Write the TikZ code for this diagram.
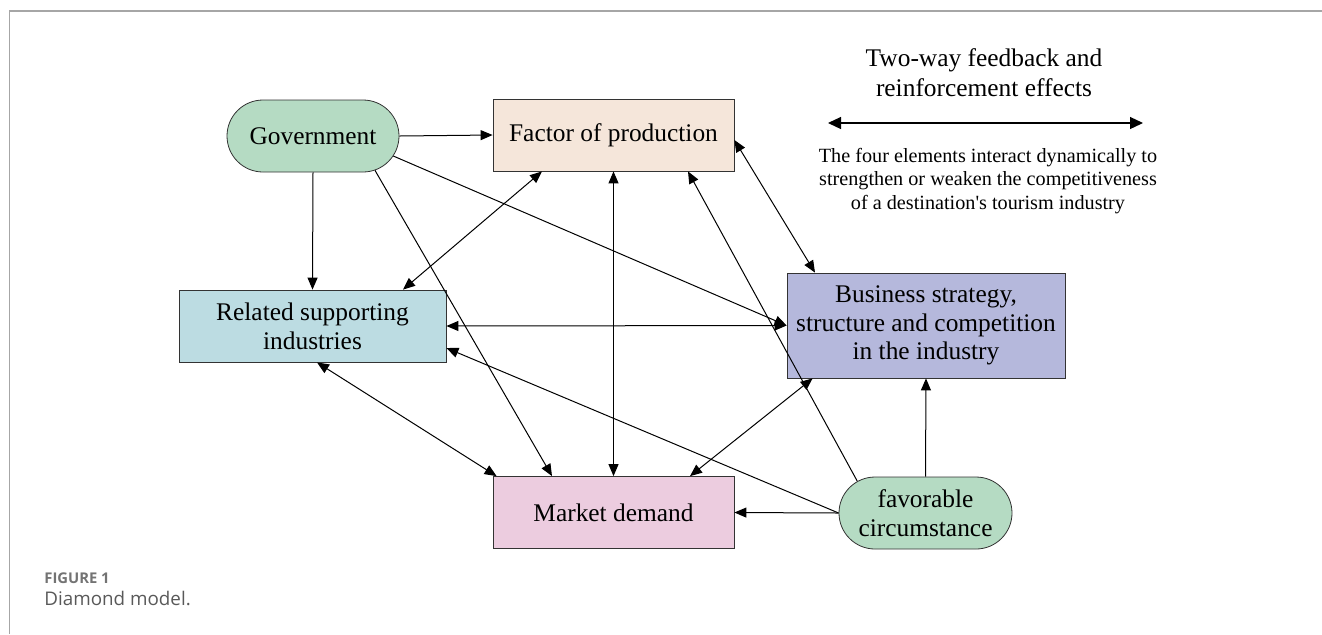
\documentclass[tikz,border=0pt]{standalone}
\usepackage{fontspec}
\setmainfont{Liberation Serif}
\newfontfamily\capfont{Open Sans}
\usepackage{tikz}
\usetikzlibrary{arrows.meta,positioning,shapes.misc}
\definecolor{govgreen}{HTML}{B5DBC3}
\definecolor{factcol}{HTML}{F5E6DA}
\definecolor{relcol}{HTML}{BCDCE2}
\definecolor{buscol}{HTML}{B5B8DC}
\definecolor{mktcol}{HTML}{ECCCDF}
\tikzset{
  box/.style={draw=black!80,fill=#1,minimum height=36pt,inner sep=2pt,align=center,font=\fontsize{12.7}{14.3}\selectfont},
  box/.default={white},
  pill/.style={box=#1,rounded rectangle},
  arr/.style={-{Triangle[length=6pt,width=5pt]},line width=0.5pt},
  dbl/.style={{Triangle[length=6pt,width=5pt]}-{Triangle[length=6pt,width=5pt]},line width=0.5pt},
  lbl/.style={align=center,inner sep=0pt},
}

\begin{document}
\begin{tikzpicture}[x=0.5pt,y=-0.5pt]
 \useasboundingbox (0,0) rectangle (1322,634);
 % page frame and caption
 \draw[black!35,line width=0.8pt] (9.5,634) |- (1322,11);
 \node[anchor=west,inner sep=0pt,font=\capfont\bfseries\fontsize{7.4}{8}\selectfont,text=black!55] (fignum) at (44,578) {FIGURE 1};
 \node[anchor=west,inner sep=0pt,font=\capfont\fontsize{9.4}{11}\selectfont,text=black!65] (figcap) at (44,598) {Diamond model.};
 % the diamond
 \node[pill=govgreen,minimum width=90pt] (gov) at (313,136) {Government};
 \node[box=factcol,minimum width=120.5pt] (fac) at (613.5,135) {Factor of production};
 \node[box=relcol,minimum width=133.5pt] (rel) at (312.5,326) {Related supporting\\industries};
 \node[box=buscol,minimum width=139pt,minimum height=52.5pt] (bus) at (926,325.5) {Business strategy,\\structure and competition\\in the industry};
 \node[box=mktcol,minimum width=120.5pt] (mkt) at (613.5,512.5) {Market demand};
 \node[pill=govgreen,minimum width=90.5pt] (fav) at (925.5,513) {favorable\\circumstance};
 % government
 \draw[arr] (gov.east) -- (fac.west);
 \draw[arr] (gov.south) -- (rel.north);
 \draw[arr] (gov.-29) -- ([xshift=-30.75pt]mkt.north);
 \draw[arr] (gov.-14) -- (bus.west);
 % two-way links
 \draw[dbl] (rel.east) -- (bus.west);
 \draw[dbl] ([xshift=45.25pt]rel.north) -- ([xshift=-35.75pt]fac.south);
 \draw[dbl] (fac.south) -- (mkt.north);
 \draw[dbl] ([yshift=-2.5pt]fac.east) -- ([xshift=-55.5pt]bus.north);
 \draw[dbl] ([xshift=2.25pt]rel.south) -- ([xshift=2pt]mkt.north west);
 \draw[dbl] ([xshift=13pt]bus.south west) -- ([xshift=38.25pt]mkt.north);
 % chance
 \draw[arr] (fav.west) -- (mkt.east);
 \draw[arr] (fav.north) -- (bus.south);
 \draw[arr] (fav.155) -- ([xshift=37.25pt]fac.south);
 \draw[arr] (fav.west) -- ([yshift=-11pt]rel.east);
 % legend
 \node[lbl,font=\fontsize{12.7}{15}\selectfont] (legtitle) at (984,73) {Two-way feedback and\\reinforcement effects};
 \coordinate (legl) at (828,123);
 \coordinate (legr) at (1143,123);
 \draw[{Triangle[length=6.5pt,width=6pt]}-{Triangle[length=6.5pt,width=6pt]},line width=0.6pt] (legl) -- (legr);
 \node[lbl,font=\fontsize{10.1}{11.75}\selectfont] (legtext) at (988,181) {The four elements interact dynamically to\\strengthen or weaken the competitiveness\\of a destination\textquotesingle s tourism industry};
\end{tikzpicture}
\end{document}
